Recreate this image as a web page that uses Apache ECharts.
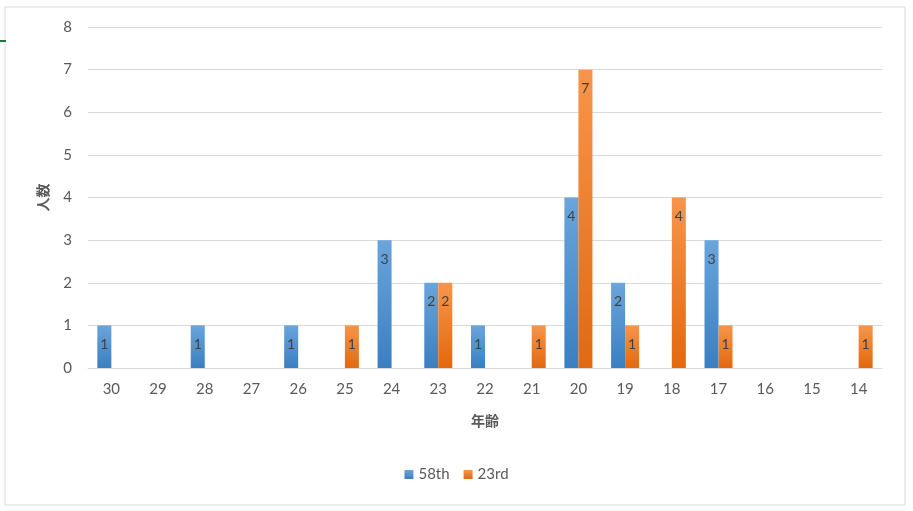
<!DOCTYPE html>
<html><head><meta charset="utf-8">
<script src="https://cdn.jsdelivr.net/npm/echarts@6/dist/echarts.min.js"></script>
<style>html,body{margin:0;padding:0;background:#fff;}#c{width:913px;height:511px;}</style>
</head><body><div id="c"></div>
<script>
const categories = ['30','29','28','27','26','25','24','23','22','21','20','19','18','17','16','15','14'];
const s58th = [1,null,1,null,1,null,3,2,1,null,4,2,null,3,null,null,null];
const s23rd = [null,null,null,null,null,1,null,2,null,1,7,1,4,1,null,null,1];
const yTicks = [0,1,2,3,4,5,6,7,8];

const chart = echarts.init(document.getElementById('c'));
const font = 'Lato, "Noto Sans CJK JP", sans-serif';
function grad(top, bottom){
  return new echarts.graphic.LinearGradient(0,0,0,1,[{offset:0,color:top},{offset:1,color:bottom}]);
}
const lbl = {show:true, position:'insideTop', distance:12, color:'#404040', fontSize:14, fontFamily:font,
  formatter: p => (p.value==null?'':p.value)};
chart.setOption({
  animation:false,
  textStyle:{fontFamily:font},
  graphic:[
    {type:'rect', shape:{x:5,y:7,width:900,height:498}, style:{fill:'#fff', stroke:'#d9d9d9', lineWidth:1}, z:-10, silent:true},
    {type:'rect', shape:{x:0,y:40,width:6,height:2}, style:{fill:'#217346'}, z:-9, silent:true}
  ],
  grid:{left:88, right:31, top:27, bottom:143, containLabel:false},
  legend:{bottom:24, left:'center', itemWidth:9, itemHeight:9, itemGap:14, icon:'rect',
    textStyle:{color:'#595959', fontSize:15, fontFamily:font}, data:['58th','23rd']},
  xAxis:{type:'category', data:categories, name:'年齢', nameLocation:'middle', nameGap:46,
    nameTextStyle:{color:'#595959', fontSize:14, fontWeight:'bold', fontFamily:font},
    axisLine:{lineStyle:{color:'#d9d9d9'}}, axisTick:{show:false},
    axisLabel:{color:'#595959', fontSize:15, margin:14, fontFamily:font}},
  yAxis:{type:'value', min:yTicks[0], max:yTicks[yTicks.length-1], interval:1,
    name:'人数', nameLocation:'middle', nameGap:38, nameRotate:90,
    nameTextStyle:{color:'#595959', fontSize:14, fontWeight:'bold', fontFamily:font},
    axisLine:{show:false}, axisTick:{show:false},
    axisLabel:{color:'#595959', fontSize:15, margin:16, fontFamily:font},
    splitLine:{lineStyle:{color:'#d9d9d9'}}},
  series:[
    {name:'58th', type:'bar', data:s58th, barWidth:'30%', barGap:'0%',
      itemStyle:{color:grad('#6aa5dc','#3a7fc1')}, label:lbl},
    {name:'23rd', type:'bar', data:s23rd, barWidth:'30%', barGap:'0%',
      itemStyle:{color:grad('#f7954b','#e2690f')}, label:lbl}
  ]
});
</script></body></html>
